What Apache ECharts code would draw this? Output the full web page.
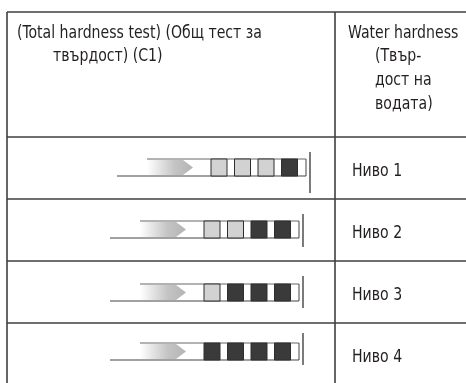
<!DOCTYPE html>
<html><head><meta charset="utf-8">
<script src="https://cdn.jsdelivr.net/npm/echarts@6/dist/echarts.min.js"></script>
<style>html,body{margin:0;padding:0;background:#fff}#c{width:466px;height:383px}</style>
</head><body><div id="c"></div>
<script>
// ---- data ----
const headerLeft = ['(Total hardness test) (Общ тест за', 'твърдост) (C1)'];
const headerRight = ['Water hardness', '(Твър-', 'дост на', 'водата)'];
const levels = ['Ниво 1', 'Ниво 2', 'Ниво 3', 'Ниво 4'];
// 0 = light pad, 1 = dark pad
const padPattern = [
  [0, 0, 0, 1],
  [0, 0, 1, 1],
  [0, 1, 1, 1],
  [1, 1, 1, 1]
];

// ---- layout (styling only) ----
const FONT = '"Liberation Sans Narrow","DejaVu Sans Condensed","Roboto Condensed",sans-serif';
const L = {left: 7, top: 12, right: 480, divX: 335, headerBottom: 137, rowH: 62, bottom: 400};
const rowShift = [7, 0, 0, 0];
const rowDy = [0, 0, 1, -2];
const markTop = [15, 15, 15, 10];
const markBot = [56, 48, 47, 42];
function rowTop(i) { return L.headerBottom + i * L.rowH; }

const chart = echarts.init(document.getElementById('c'), null, {renderer: 'canvas'});
const LINE = '#3f3f3f';

function tableRender(params, api) {
  const c = (x, y) => api.coord([x, y]);
  const lines = [];
  const seg = (x1, y1, x2, y2) => {
    const a = c(x1, y1), b = c(x2, y2);
    lines.push({type: 'line', shape: {x1: a[0], y1: a[1], x2: b[0], y2: b[1]},
      style: {stroke: LINE, lineWidth: 1.6}});
  };
  seg(L.left, L.top, L.right, L.top);
  seg(L.left, L.top, L.left, L.bottom);
  seg(L.divX, L.top, L.divX, L.bottom);
  for (let i = 0; i < levels.length; i++) seg(L.left, rowTop(i), L.right, rowTop(i));
  return {type: 'group', children: lines};
}

function stripRender(params, api) {
  const i = api.value(0);
  const sx = rowShift[i];
  const t = rowTop(i);
  const y0 = t + 22 + rowDy[i], y1 = y0 + 17;
  const c = (x, y) => api.coord([x + sx, y]);
  const ch = [];
  const seg = (x1, ya, x2, yb, w, col) => {
    const a = c(x1, ya), b = c(x2, yb);
    ch.push({type: 'line', shape: {x1: a[0], y1: a[1], x2: b[0], y2: b[1]},
      style: {stroke: col || '#333', lineWidth: w || 1}});
  };
  const ym = (y0 + y1) / 2;
  const pts = [c(140, y0 + 1), c(176, y0 + 1), c(186, ym), c(176, y1 - 1), c(140, y1 - 1)];
  ch.push({type: 'polygon', shape: {points: pts},
    style: {fill: new echarts.graphic.LinearGradient(0, 0, 1, 0, [
      {offset: 0, color: '#ffffff'}, {offset: 0.6, color: '#c4c4c4'}, {offset: 1, color: '#b4b4b4'}])}});
  seg(140, y0, 299, y0, 1, '#666');
  seg(110, y1, 299, y1, 1.2, '#444');
  seg(299, y0, 299, y1, 1, '#444');
  const pat = padPattern[i];
  for (let k = 0; k < pat.length; k++) {
    const px = 204 + k * 23.5;
    const a = c(px, y0), b = c(px + 16, y1);
    ch.push({type: 'rect', shape: {x: a[0], y: a[1], width: b[0] - a[0], height: b[1] - a[1]},
      style: {fill: pat[k] ? '#3a3a3a' : '#d2d2d2', stroke: '#2e2e2e', lineWidth: 1}});
  }
  seg(303, t + markTop[i], 303, t + markBot[i], 1.3, '#333');
  return {type: 'group', children: ch};
}

const textItems = [];
headerLeft.forEach((s, k) => textItems.push({text: s, x: k === 0 ? 17 : 53, y: 33 + k * 23.7}));
headerRight.forEach((s, k) => textItems.push({text: s, x: k === 0 ? 348 : 375, y: 33 + k * 23.7}));
levels.forEach((s, k) => textItems.push({text: s, x: 352, y: rowTop(k) + 34}));

function textRender(params, api) {
  const it = textItems[params.dataIndex];
  const p = api.coord([it.x, it.y]);
  return {type: 'text', x: p[0], y: p[1], scaleX: 0.87,
    style: {text: it.text, fill: '#231f20', font: '18px ' + FONT, textAlign: 'left', textVerticalAlign: 'middle'}};
}

chart.setOption({
  animation: false,
  grid: {left: 0, right: 0, top: 0, bottom: 0},
  xAxis: {type: 'value', min: 0, max: 466, show: false},
  yAxis: {type: 'value', min: 0, max: 383, inverse: true, show: false},
  series: [
    {type: 'custom', renderItem: tableRender, data: [[0]], clip: false, silent: true},
    {type: 'custom', renderItem: stripRender, data: levels.map((l, i) => [i]), silent: true},
    {type: 'custom', renderItem: textRender, data: textItems.map((t, i) => [i]), silent: true}
  ]
});
</script></body></html>
